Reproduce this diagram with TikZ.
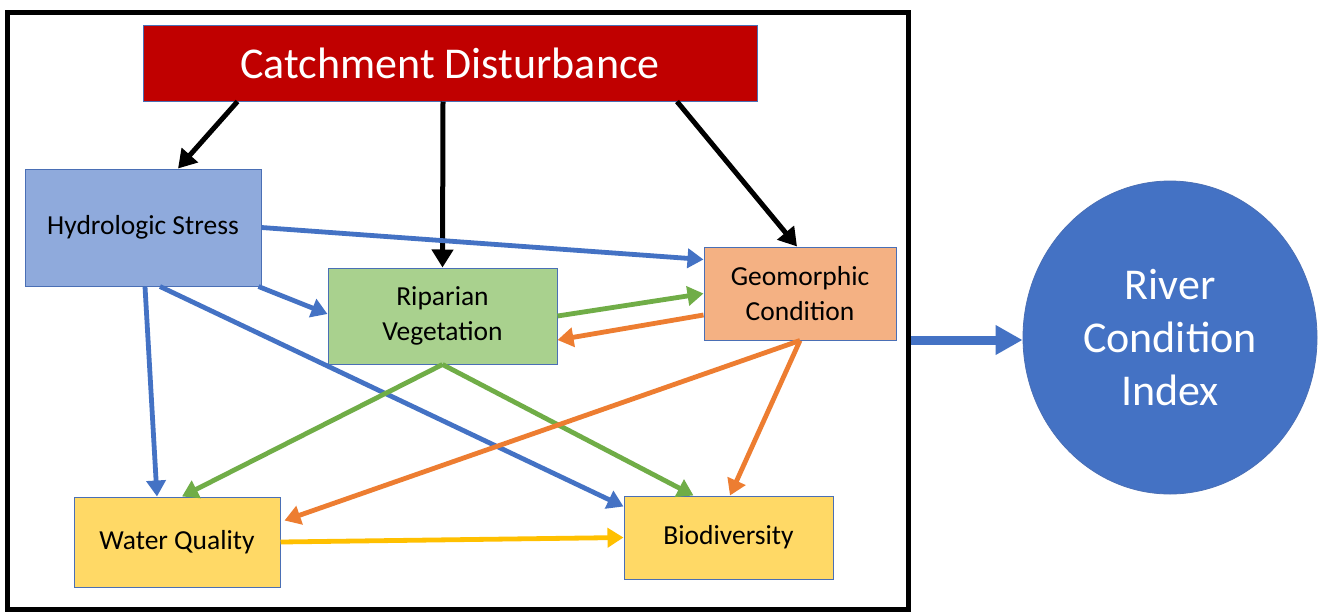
\documentclass[tikz,border=0pt]{standalone}
\usepackage{fontspec}
\setmainfont{Carlito}
\usetikzlibrary{arrows.meta,calc,shapes.geometric}
\definecolor{cdred}{HTML}{C00000}
\definecolor{hsfill}{HTML}{8FAADC}
\definecolor{rvfill}{HTML}{A9D18E}
\definecolor{geofill}{HTML}{F4B183}
\definecolor{yfill}{HTML}{FFD966}
\definecolor{accblue}{HTML}{4472C4}
\definecolor{accgreen}{HTML}{70AD47}
\definecolor{accorange}{HTML}{ED7D31}
\definecolor{accyellow}{HTML}{FFC000}
\definecolor{boxline}{HTML}{4A6FB5}
\begin{document}
\begin{tikzpicture}[x=1pt,y=-1pt,
  box/.style={draw=boxline, line width=1pt, inner sep=0pt, align=center,
    font=\fontsize{27.5}{35}\selectfont},
  bigtext/.style={font=\fontsize{44}{53}\selectfont, text=white},
  arr/.style={line width=4.8pt, -{Triangle[length=16pt,width=19pt]}},
  blackarr/.style={arr, line width=5pt, black, -{Triangle[length=18pt,width=21pt]}},
  bluearr/.style={arr, draw=accblue},
  greenarr/.style={arr, draw=accgreen},
  orangearr/.style={arr, draw=accorange},
  yellowarr/.style={arr, draw=accyellow},
  framebox/.style={draw=black, line width=5pt, inner sep=0pt}
]
\useasboundingbox (0,0) rectangle (1319,611);
\fill[white] (0,0) rectangle (1319,611);

\node[framebox, minimum width=901pt, minimum height=597pt] (frame) at (458,310.5) {};

\node[box, fill=cdred, minimum width=614pt, minimum height=76pt, bigtext] (cd) at (450,63) {Catchment Disturbance};
\node[box, fill=hsfill, minimum width=236pt, minimum height=117pt] (hs) at (143,227.5) {Hydrologic Stress};
\node[box, fill=rvfill, minimum width=229pt, minimum height=96pt] (rv) at (442.5,316) {Riparian\\Vegetation};
\node[box, fill=geofill, minimum width=192pt, minimum height=93pt] (geo) at (800,293.5) {Geomorphic\\Condition};
\node[box, fill=yfill, minimum width=206pt, minimum height=90pt] (wq) at (177,542) {Water Quality};
\node[box, fill=yfill, minimum width=209pt, minimum height=83pt] (bio) at (728.5,537.5) {Biodiversity};
\node[ellipse, draw=boxline, line width=0.8pt, fill=accblue, minimum width=294pt, minimum height=313pt, inner sep=0pt, align=center, bigtext] (rci) at (1170,337.5) {River\\Condition\\Index};

% black arrows
\draw[blackarr] ([xshift=95pt]cd.south west) -- ([xshift=35pt]hs.north);
\draw[blackarr] ([xshift=-7pt]cd.south) -- (rv.north);
\draw[blackarr] ([xshift=227pt]cd.south) -- ([xshift=-3pt]geo.north);

% blue arrows
\draw[bluearr] (hs.east) -- ([yshift=34pt]geo.west);
\draw[bluearr] ([xshift=-3pt]hs.south east) -- ([yshift=2pt]rv.west);
\draw[bluearr] ([xshift=2pt]hs.south) -- ([xshift=-20pt]wq.north);
\draw[bluearr] ([xshift=17pt]hs.south) -- ([yshift=-11pt]bio.north west);

% green arrows
\draw[greenarr] (rv.east) -- (geo.west);
\draw[greenarr] (rv.south) -- ([xshift=5pt]wq.north);
\draw[greenarr] (rv.south) -- ([xshift=-35pt]bio.north);

% orange arrows
\draw[orangearr] ([yshift=-21.5pt]geo.west) -- ([yshift=-24pt]rv.east);
\draw[orangearr] (geo.south) -- ([xshift=4pt,yshift=-24pt]wq.north east);
\draw[orangearr] (geo.south) -- ([xshift=1.5pt]bio.north);

% yellow arrow
\draw[yellowarr] (wq.east) -- (bio.west);

% to river condition index
\draw[line width=9pt, accblue, -{Triangle[length=27pt,width=28pt]}] ([yshift=-29.5pt]frame.east) -- ([yshift=-29.5pt]frame.east -| rci.west);
\end{tikzpicture}
\end{document}
